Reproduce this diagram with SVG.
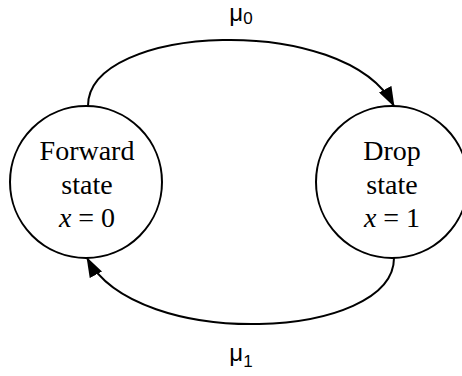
<svg xmlns="http://www.w3.org/2000/svg" width="462" height="376" viewBox="0 0 462 376">
<style>
.node{fill:#fff;stroke:#000;stroke-width:2}
.lbl{font-family:"Liberation Serif","Times New Roman",serif;font-size:28px;fill:#000;text-anchor:middle}
.edge{fill:none;stroke:#000;stroke-width:2}
.mu{font-family:"Liberation Sans",Arial,sans-serif;font-size:24px;fill:#000;text-anchor:middle}
</style>
<defs>
<marker id="arr" viewBox="0 0 20 14" refX="19" refY="7" markerWidth="20" markerHeight="14" markerUnits="userSpaceOnUse" orient="auto">
<path d="M0,0 L20,7 L0,14 Z" fill="#000"/>
</marker>
</defs>
<rect width="462" height="376" fill="#fff"/>
<g id="edges">
<path class="edge" d="M88,106 C88,24 345,12 394,106" marker-end="url(#arr)"/>
<path class="edge" d="M394,258 C394,340 137,352 87,258" marker-end="url(#arr)"/>
<text class="mu" x="241" y="21">μ<tspan font-size="17" dy="3">0</tspan></text>
<text class="mu" x="241" y="361">μ<tspan font-size="17" dy="6">1</tspan></text>
</g>
<g id="forward">
<circle class="node" cx="86" cy="182" r="76"/>
<text class="lbl" x="87" y="160">Forward</text>
<text class="lbl" x="87" y="193.5">state</text>
<text class="lbl" x="87" y="227"><tspan font-style="italic">x</tspan> = 0</text>
</g>
<g id="drop">
<circle class="node" cx="392" cy="182" r="76"/>
<text class="lbl" x="392" y="160">Drop</text>
<text class="lbl" x="392" y="193.5">state</text>
<text class="lbl" x="392" y="227"><tspan font-style="italic">x</tspan> = 1</text>
</g>
</svg>
